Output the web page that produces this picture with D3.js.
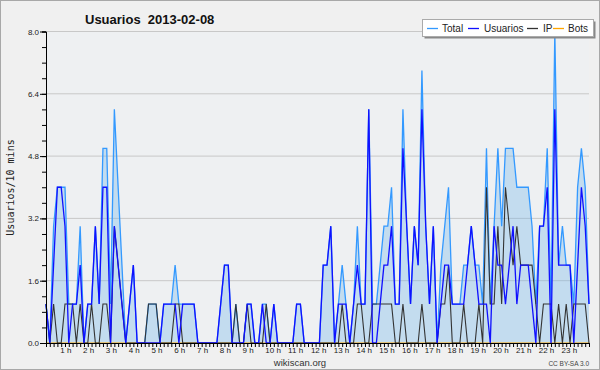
<!DOCTYPE html>
<html><head><meta charset="utf-8">
<script src="https://cdn.jsdelivr.net/npm/d3@7"></script>
<style>html,body{margin:0;padding:0;background:#f0f0f0;}svg{display:block;}</style>
</head><body>
<script>
const title = "Usuarios  2013-02-08";
const yLabel = "Usuarios/10 mins";
const seriesNames = ["Total", "Usuarios", "IP", "Bots"];
const hourLabels = ["1 h","2 h","3 h","4 h","5 h","6 h","7 h","8 h","9 h","10 h","11 h","12 h","13 h","14 h","15 h","16 h","17 h","18 h","19 h","20 h","21 h","22 h","23 h"];
const yTicks = [0, 1.6, 3.2, 4.8, 6.4, 8.0];
// values per 10-minute slot (144 slots)
const total = [
 1,0,3,4,4,4,1,1,1,3, 0,1,1,3,1,5,5,1,6,4, 2,0,1,2,0,0,0,1,1,1,
 0,1,1,1,2,1,1,1,1,1, 0,0,0,0,0,0,1,2,2,0, 1,0,0,1,1,0,0,1,1,0,
 1,0,0,0,0,0,1,1,0,0, 0,0,0,2,2,3,0,1,2,1, 0,1,3,1,1,6,1,1,2,3,
 3,4,1,1,6,3,1,3,2,7, 3,1,3,0,2,3,4,1,1,1, 2,2,3,2,2,1,5,1,3,5,
 3,5,5,5,4,4,4,4,3,1, 3,3,5,1,8,2,3,2,2,1, 4,5,4,1];
const usuarios = [
 1,0,2,4,4,3,0,1,1,2, 0,1,1,3,1,4,4,0,3,2, 1,0,1,2,0,0,0,0,0,0,
 0,1,1,1,1,0,1,1,1,1, 0,0,0,0,0,0,1,2,2,0, 0,0,0,1,1,0,0,1,0,0,
 1,0,0,0,0,0,1,1,0,0, 0,0,0,2,2,3,0,1,1,1, 0,1,2,1,1,6,0,0,1,2,
 2,3,1,1,5,3,1,3,2,6, 3,1,3,0,1,2,2,1,1,1, 1,2,3,2,1,1,1,0,3,2,
 2,1,2,3,1,2,2,2,1,0, 3,3,4,0,6,2,2,2,2,0, 2,4,3,1];
const ip = [
 1,0,1,0,0,1,1,1,0,1, 0,0,1,0,0,1,1,0,3,2, 1,0,0,0,0,0,0,1,1,1,
 0,0,0,0,1,1,0,0,0,0, 0,0,0,0,0,0,0,0,0,0, 1,0,0,1,0,0,0,0,1,0,
 0,0,0,0,0,0,0,0,0,0, 0,0,0,0,0,0,0,0,1,0, 0,0,1,1,0,0,1,1,1,1,
 1,1,0,0,1,0,0,0,0,1, 0,0,0,0,1,1,2,0,0,0, 1,0,0,0,1,0,4,1,1,3,
 1,4,3,2,3,2,2,2,2,1, 0,1,1,1,0,1,0,1,0,1, 1,1,1,0];
const bots = new Array(144).fill(0);

const W = 600, H = 370;
const svg = d3.select("body").append("svg").attr("width", W).attr("height", H);
svg.append("rect").attr("x",0.5).attr("y",0.5).attr("width",W-1).attr("height",H-1)
  .attr("fill","#f0f0f0").attr("stroke","#a8a8a8");

const x = d3.scaleLinear().domain([0, 143]).range([46, 589]);
const y = d3.scaleLinear().domain([0, 8]).range([343, 31.5]);

svg.append("rect").attr("x",46).attr("y",31.5).attr("width",543).attr("height",311.5).attr("fill","#eef0f2");

// grid
svg.append("g").selectAll("line").data(yTicks.filter(d=>d>0)).join("line")
  .attr("x1",46).attr("x2",589).attr("y1",d=>y(d)).attr("y2",d=>y(d))
  .attr("stroke","#c8c8c8").attr("stroke-width",1);

const idx = d3.range(144);
const area = d3.area().x(i=>x(i)).y0(y(0)).y1(i=>y(total[i]));
svg.append("path").datum(idx).attr("d",area).attr("fill","rgb(110,180,235)").attr("fill-opacity",0.33);

const line = arr => d3.line().x(i=>x(i)).y(i=>y(arr[i]));
svg.append("path").datum(idx).attr("d",line(total)).attr("fill","none").attr("stroke","#3399ff").attr("stroke-width",1.3);
svg.append("path").datum(idx).attr("d",line(bots)).attr("fill","none").attr("stroke","#ffa500").attr("stroke-width",1.2);
svg.append("path").datum(idx).attr("d",line(ip)).attr("fill","none").attr("stroke","#333333").attr("stroke-width",1.1);
svg.append("path").datum(idx).attr("d",line(usuarios)).attr("fill","none").attr("stroke","#1010ff").attr("stroke-width",1.3);

// y axis
const yMinor = d3.axisLeft(y).tickValues(d3.range(0, 8.01, 0.4)).tickSize(4).tickFormat("");
svg.append("g").attr("transform","translate(46,0)").call(yMinor)
  .call(g=>g.selectAll("line,path").attr("stroke","#000"));
const yMajor = d3.axisLeft(y).tickValues(yTicks).tickSize(6).tickFormat(d3.format(".1f"));
svg.append("g").attr("transform","translate(46,0)").call(yMajor)
  .call(g=>g.select(".domain").remove())
  .call(g=>g.selectAll("line").attr("stroke","#000"))
  .call(g=>g.selectAll("text").attr("font-family","Liberation Sans, Arial, sans-serif").attr("font-size","8px").attr("fill","#222").attr("x",-7));

// x axis
const xMinor = d3.axisBottom(x).tickValues(idx).tickSize(4).tickFormat("");
svg.append("g").attr("transform","translate(0,343)").call(xMinor)
  .call(g=>g.selectAll("line,path").attr("stroke","#000"));
const xHours = d3.axisBottom(x).tickValues(d3.range(1,24).map(h=>h*6)).tickSize(0)
  .tickFormat((d,i)=>hourLabels[i]);
svg.append("g").attr("transform","translate(0,343)").call(xHours)
  .call(g=>g.select(".domain").remove())
  .call(g=>g.selectAll("text").attr("font-family","Liberation Sans, Arial, sans-serif").attr("font-size","8px").attr("fill","#222")
     .attr("text-anchor","start").attr("dx",-9).attr("y",4).attr("dy","0.71em"));

// titles
svg.append("text").attr("x",85).attr("y",24).attr("font-family","Liberation Sans, Arial, sans-serif")
  .attr("font-weight","bold").attr("font-size","13px").attr("fill","#111")
  .style("white-space","pre").text(title);
svg.append("text").attr("transform","translate(14,187.5) rotate(-90)").attr("text-anchor","middle")
  .attr("font-family","DejaVu Sans Mono, monospace").attr("font-size","10px").attr("fill","#222").text(yLabel);
svg.append("text").attr("x",300).attr("y",366).attr("text-anchor","middle")
  .attr("font-family","Liberation Sans, Arial, sans-serif").attr("font-size","9.5px").attr("fill","#333").text("wikiscan.org");
svg.append("text").attr("x",589).attr("y",366).attr("text-anchor","end")
  .attr("font-family","Liberation Sans, Arial, sans-serif").attr("font-size","6.5px").attr("fill","#444").text("CC BY-SA 3.0");

// legend
const lg = svg.append("g");
lg.append("rect").attr("x",424.5).attr("y",21.5).attr("width",171).attr("height",17).attr("fill","#888");
lg.append("rect").attr("x",422.5).attr("y",19.5).attr("width",171).attr("height",17).attr("fill","#fff").attr("stroke","#aaa");
const legColors = ["#3399ff","#1010ff","#333333","#ffa500"];
const legLineX = [427, 468, 527, 553];
const legTextX = [442, 484, 543, 568];
seriesNames.forEach((n,i)=>{
  lg.append("line").attr("x1",legLineX[i]).attr("x2",legLineX[i]+11).attr("y1",28.5).attr("y2",28.5).attr("stroke",legColors[i]).attr("stroke-width",1.3);
  lg.append("text").attr("x",legTextX[i]).attr("y",32).attr("font-family","Liberation Sans, Arial, sans-serif").attr("font-size","10px").attr("fill","#222").text(n);
});
</script>
</body></html>
